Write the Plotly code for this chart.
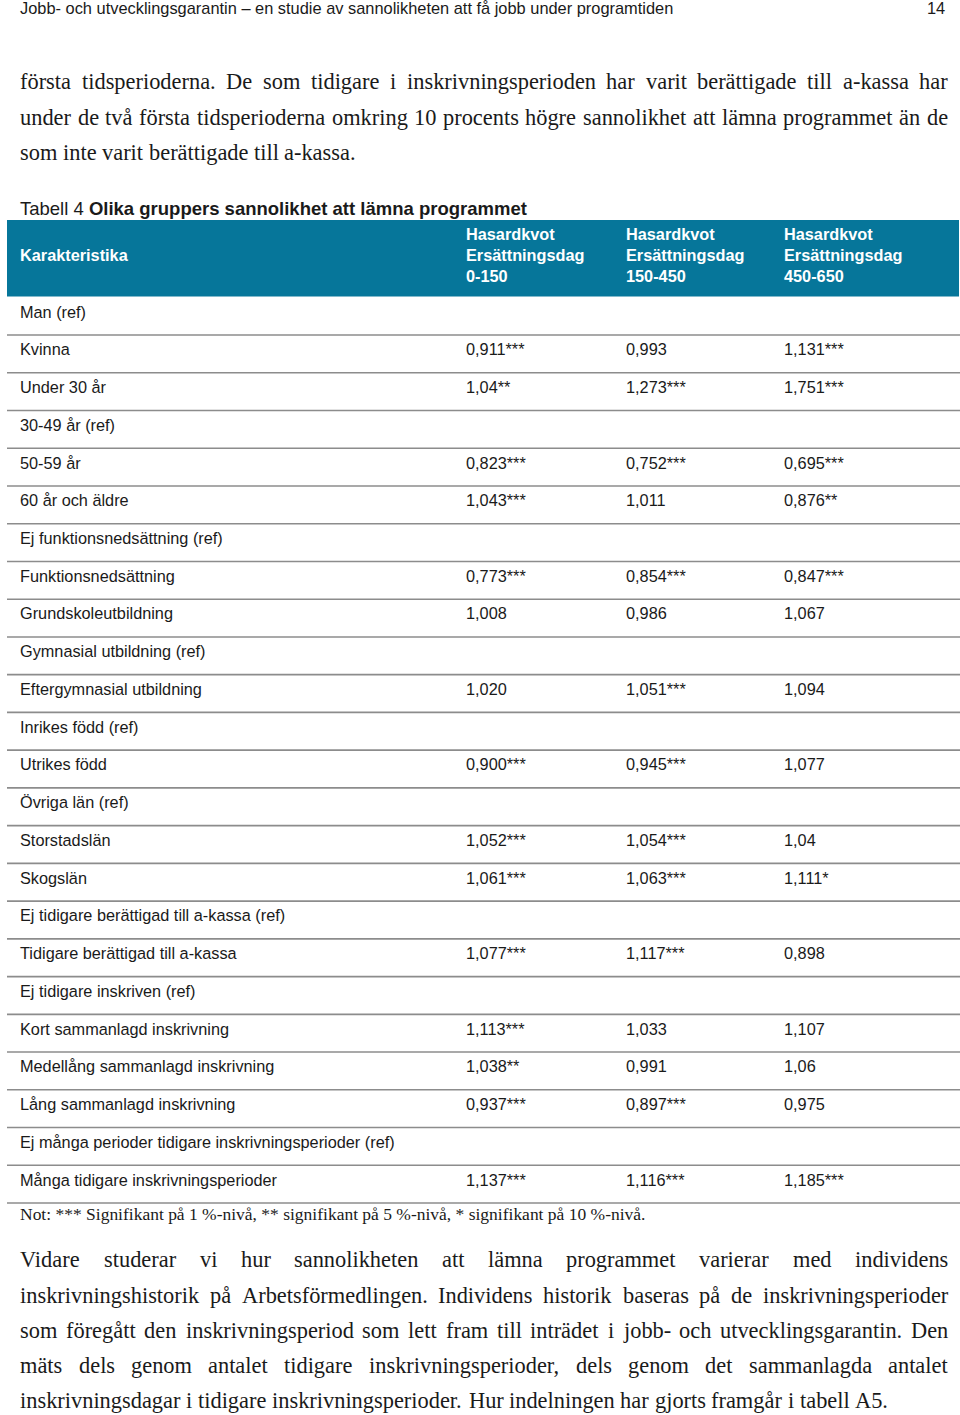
import plotly.graph_objects as go

# ---------------- data (read from the page) ----------------
PAGE_HEADER = "Jobb- och utvecklingsgarantin – en studie av sannolikheten att få jobb under programtiden"
PAGE_NUMBER = "14"

PARA_TOP = [
    "första tidsperioderna. De som tidigare i inskrivningsperioden har varit berättigade till a-kassa har",
    "under de två första tidsperioderna omkring 10 procents högre sannolikhet att lämna programmet än de",
    "som inte varit berättigade till a-kassa.",
]
PARA_BOTTOM = [
    "Vidare studerar vi hur sannolikheten att lämna programmet varierar med individens",
    "inskrivningshistorik på Arbetsförmedlingen. Individens historik baseras på de inskrivningsperioder",
    "som föregått den inskrivningsperiod som lett fram till inträdet i jobb- och utvecklingsgarantin. Den",
    "mäts dels genom antalet tidigare inskrivningsperioder, dels genom det sammanlagda antalet",
    "inskrivningsdagar i tidigare inskrivningsperioder. Hur indelningen har gjorts framgår i tabell A5.",
]
NOTE = "Not: *** Signifikant på 1 %-nivå, ** signifikant på 5 %-nivå, * signifikant på 10 %-nivå."

TABLE_PREFIX = "Tabell 4 "
TABLE_TITLE = "Olika gruppers sannolikhet att lämna programmet"
HEADER_LABEL = "Karakteristika"
PERIODS = ["0-150", "150-450", "450-650"]
HEADER_COLS = ["Hasardkvot<br>Ersättningsdag<br>" + p for p in PERIODS]

characteristics = [
    "Man (ref)", "Kvinna", "Under 30 år", "30-49 år (ref)", "50-59 år", "60 år och äldre",
    "Ej funktionsnedsättning (ref)", "Funktionsnedsättning", "Grundskoleutbildning",
    "Gymnasial utbildning (ref)", "Eftergymnasial utbildning", "Inrikes född (ref)", "Utrikes född",
    "Övriga län (ref)", "Storstadslän", "Skogslän", "Ej tidigare berättigad till a-kassa (ref)",
    "Tidigare berättigad till a-kassa", "Ej tidigare inskriven (ref)", "Kort sammanlagd inskrivning",
    "Medellång sammanlagd inskrivning", "Lång sammanlagd inskrivning",
    "Ej många perioder tidigare inskrivningsperioder (ref)", "Många tidigare inskrivningsperioder",
]
hr_0_150 = [None, "0,911***", "1,04**", None, "0,823***", "1,043***", None, "0,773***", "1,008",
            None, "1,020", None, "0,900***", None, "1,052***", "1,061***", None, "1,077***", None,
            "1,113***", "1,038**", "0,937***", None, "1,137***"]
hr_150_450 = [None, "0,993", "1,273***", None, "0,752***", "1,011", None, "0,854***", "0,986",
              None, "1,051***", None, "0,945***", None, "1,054***", "1,063***", None, "1,117***", None,
              "1,033", "0,991", "0,897***", None, "1,116***"]
hr_450_650 = [None, "1,131***", "1,751***", None, "0,695***", "0,876**", None, "0,847***", "1,067",
              None, "1,094", None, "1,077", None, "1,04", "1,111*", None, "0,898", None,
              "1,107", "1,06", "0,975", None, "1,185***"]

# ---------------- layout constants ----------------
W, H = 960, 1415
SANS = "Liberation Sans, Arial, sans-serif"
SERIF = "Liberation Serif, Times New Roman, serif"
TEXT = "#1a1a1a"
TEAL = "#06769a"
RULE = "#8c8c8c"

COL_X = [20, 466, 626, 784]          # label column + three value columns (page px)
ROW0_PX, ROW_PX = 313.5, 37.74       # text centre of first row, row pitch
LINE_OFF = 0.57                      # rule sits below text centre (row units)


def row_of(px):
    return (px - ROW0_PX) / ROW_PX


def paper_y(px):
    return 1 - px / H


# Times / Liberation Serif advance widths (1/1000 em)
TW = {
    'a': 444, 'b': 500, 'c': 444, 'd': 500, 'e': 444, 'f': 333, 'g': 500, 'h': 500, 'i': 278,
    'j': 278, 'k': 500, 'l': 278, 'm': 778, 'n': 500, 'o': 500, 'p': 500, 'q': 500, 'r': 333,
    's': 389, 't': 278, 'u': 500, 'v': 500, 'w': 722, 'x': 500, 'y': 500, 'z': 444,
    'å': 444, 'ä': 444, 'ö': 500, 'é': 444,
    'A': 722, 'B': 667, 'C': 667, 'D': 722, 'E': 611, 'F': 556, 'G': 722, 'H': 722, 'I': 333,
    'J': 389, 'K': 722, 'L': 611, 'M': 889, 'N': 722, 'O': 722, 'P': 556, 'Q': 722, 'R': 667,
    'S': 556, 'T': 611, 'U': 722, 'V': 722, 'W': 944, 'X': 722, 'Y': 722, 'Z': 611,
    'Å': 722, 'Ä': 722, 'Ö': 722,
    ' ': 250, '.': 250, ',': 250, '-': 333, '%': 833, '*': 500, ':': 278, '(': 333, ')': 333,
}


def tw(s, size):
    return sum(TW.get(c, 500) for c in s) / 1000.0 * size


fig = go.Figure()

# ---------------- table cells ----------------
rows = list(range(len(characteristics)))
fig.add_trace(go.Scatter(
    x=[COL_X[0]] * len(rows), y=rows, text=characteristics, mode="text",
    textposition="middle right", textfont=dict(family=SANS, size=16.3, color=TEXT),
    hoverinfo="skip", showlegend=False))
for cx, vals in zip(COL_X[1:], [hr_0_150, hr_150_450, hr_450_650]):
    idx = [i for i, v in enumerate(vals) if v]
    fig.add_trace(go.Scatter(
        x=[cx] * len(idx), y=idx, text=[vals[i] for i in idx], mode="text",
        textposition="middle right", textfont=dict(family=SANS, size=16.3, color=TEXT),
        hoverinfo="skip", showlegend=False))

shapes = []
# header band
shapes.append(dict(type="rect", xref="x", yref="y", x0=7, x1=959,
                   y0=row_of(220), y1=row_of(296.5), fillcolor=TEAL, line=dict(width=0), layer="below"))
# row rules
for i in rows:
    shapes.append(dict(type="line", xref="x", yref="y", x0=7, x1=960, y0=i + LINE_OFF, y1=i + LINE_OFF,
                       line=dict(color=RULE, width=1.6)))

ann = []
# header texts
ann.append(dict(x=COL_X[0] - 2, y=row_of(255), xref="x", yref="y", text="<b>%s</b>" % HEADER_LABEL,
                showarrow=False, xanchor="left", yanchor="middle",
                font=dict(family=SANS, size=16.3, color="white")))
for cx, t in zip(COL_X[1:], HEADER_COLS):
    ann.append(dict(x=cx - 2, y=row_of(255), xref="x", yref="y", text="<b>%s</b>" % t,
                    showarrow=False, xanchor="left", yanchor="middle", align="left",
                    font=dict(family=SANS, size=16.3, color="white")))

# table title
ann.append(dict(x=18, y=paper_y(209), xref="x", yref="paper",
                text=TABLE_PREFIX + "<b>%s</b>" % TABLE_TITLE, showarrow=False,
                xanchor="left", yanchor="middle", font=dict(family=SANS, size=18.5, color=TEXT)))

# page header
ann.append(dict(x=18, y=paper_y(8), xref="x", yref="paper", text=PAGE_HEADER, showarrow=False,
                xanchor="left", yanchor="middle", font=dict(family=SANS, size=16.4, color=TEXT)))
ann.append(dict(x=947, y=paper_y(8), xref="x", yref="paper", text=PAGE_NUMBER, showarrow=False,
                xanchor="right", yanchor="middle", font=dict(family=SANS, size=16.4, color=TEXT)))

# body paragraphs (justified word by word)
FS_BODY = min(337 / tw(PARA_TOP[-1], 1), 868 / tw(PARA_BOTTOM[-1], 1))


def paragraph(lines, centers, fs, xl=20, xr=948):
    for k, (line, yc) in enumerate(zip(lines, centers)):
        words = line.split(" ")
        widths = [tw(w, fs) for w in words]
        if k == len(lines) - 1 or len(words) < 2:
            gap = tw(" ", fs)
        else:
            gap = (xr - xl - sum(widths)) / (len(words) - 1)
        x = xl
        for w, wd in zip(words, widths):
            ann.append(dict(x=x - 2, y=paper_y(yc), xref="x", yref="paper", text=w, showarrow=False,
                            xanchor="left", yanchor="middle",
                            font=dict(family=SERIF, size=fs, color=TEXT)))
            x += wd + gap


paragraph(PARA_TOP, [82, 117.5, 153], FS_BODY)
paragraph(PARA_BOTTOM, [1259.5, 1295, 1330.5, 1365.5, 1400.5], FS_BODY)

FS_NOTE = 626 / tw(NOTE, 1)
ann.append(dict(x=18, y=paper_y(1214), xref="x", yref="paper", text=NOTE, showarrow=False,
                xanchor="left", yanchor="middle", font=dict(family=SERIF, size=FS_NOTE, color=TEXT)))

fig.update_layout(
    width=W, height=H, margin=dict(l=0, r=0, t=0, b=0),
    paper_bgcolor="white", plot_bgcolor="white",
    xaxis=dict(range=[0, W], visible=False, fixedrange=True),
    yaxis=dict(range=[row_of(H), row_of(0)], visible=False, fixedrange=True),
    shapes=shapes, annotations=ann, showlegend=False,
)

# remove the browser's default 8px body margin so the figure fills the window exactly
fig.write_html("out.html", config={"displayModeBar": False, "staticPlot": True},
               post_script="document.body.style.margin='0';")
